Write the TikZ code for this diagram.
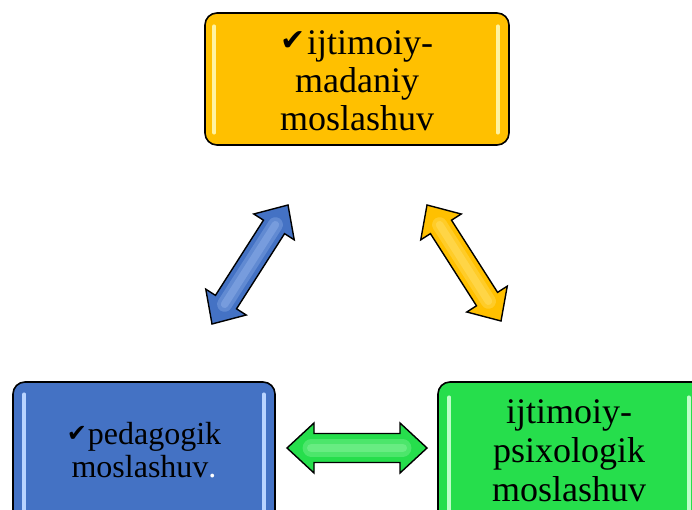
\documentclass[tikz,border=0pt]{standalone}
\usepackage{fontspec}
\setmainfont{Liberation Serif}
\newfontfamily\symfont{DejaVu Sans}
\usetikzlibrary{calc}
\definecolor{goldc}{RGB}{255,192,0}
\definecolor{bluec}{RGB}{68,114,196}
\definecolor{greenc}{RGB}{38,222,76}
\definecolor{goldhl}{RGB}{255,243,160}
\definecolor{bluehl}{RGB}{185,212,255}
\definecolor{greenhl}{RGB}{190,255,200}
\newcommand{\ck}[2]{\raisebox{#2pt}{\symfont\fontsize{#1}{#1}\selectfont ✔}\kern1pt}
\tikzset{
  box/.style={draw=black, line width=1.6pt, rounded corners=12pt, inner sep=0pt},
  txt/.style={align=center, inner sep=0pt},
  strip/.style={line width=3.5pt, line cap=round},
  barrow/.style={draw=black, line width=1.4pt, line join=miter},
  glow/.style={line cap=round},
}
% #1 from, #2 to, #3 fill, #4 glow colour, #5 head length, #6 head half width, #7 shaft half width
\newcommand{\blockarrow}[7]{%
  \draw[barrow, fill=#3] let \p1=(#1), \p2=(#2), \n1={atan2(\y2-\y1,\x2-\x1)} in
    (\p1) -- ($(\p1)+(\n1:#5)+({\n1+90}:#6)$) -- ($(\p1)+(\n1:#5)+({\n1+90}:#7)$)
    -- ($(\p2)+({\n1+180}:#5)+({\n1+90}:#7)$) -- ($(\p2)+({\n1+180}:#5)+({\n1+90}:#6)$)
    -- (\p2) -- ($(\p2)+({\n1+180}:#5)+({\n1-90}:#6)$) -- ($(\p2)+({\n1+180}:#5)+({\n1-90}:#7)$)
    -- ($(\p1)+(\n1:#5)+({\n1-90}:#7)$) -- ($(\p1)+(\n1:#5)+({\n1-90}:#6)$) -- cycle;
  \draw[glow, #4, opacity=0.25, line width=1.2*#7] let \p1=(#1), \p2=(#2), \n1={atan2(\y2-\y1,\x2-\x1)} in
    ($(\p1)+(\n1:0.9*#5)$) -- ($(\p2)+({\n1+180}:0.9*#5)$);
  \draw[glow, #4, opacity=0.25, line width=0.6*#7] let \p1=(#1), \p2=(#2), \n1={atan2(\y2-\y1,\x2-\x1)} in
    ($(\p1)+(\n1:0.9*#5)$) -- ($(\p2)+({\n1+180}:0.9*#5)$);
}
\begin{document}
\begin{tikzpicture}[x=1pt,y=1pt]
\useasboundingbox (0,0) rectangle (692,-510);
\clip (0,0) rectangle (692,-510);
\fill[white] (0,0) rectangle (692,-510);

% boxes
\node[box, fill=goldc, minimum width=304pt, minimum height=132pt] (top) at (357,-79) {};
\node[box, fill=bluec, minimum width=262pt, minimum height=148pt] (left) at (144,-456) {};
\node[box, fill=greenc, minimum width=268pt, minimum height=148pt] (right) at (572,-456) {};

% highlight strips
\draw[strip, goldhl] ([xshift=10pt,yshift=-14pt]top.north west) -- ([xshift=10pt,yshift=13pt]top.south west);
\draw[strip, goldhl] ([xshift=-12pt,yshift=-14pt]top.north east) -- ([xshift=-12pt,yshift=13pt]top.south east);
\draw[strip, bluehl] ([xshift=12pt,yshift=-13pt]left.north west) -- ([xshift=12pt,yshift=13pt]left.south west);
\draw[strip, bluehl] ([xshift=-12pt,yshift=-13pt]left.north east) -- ([xshift=-12pt,yshift=13pt]left.south east);
\draw[strip, greenhl] ([xshift=12pt,yshift=-16pt]right.north west) -- ([xshift=12pt,yshift=13pt]right.south west);
\draw[strip, greenhl] ([xshift=-18pt,yshift=-16pt]right.north east) -- ([xshift=-18pt,yshift=13pt]right.south east);

% texts
\node[txt, font=\fontsize{36}{38}\selectfont] (toptxt) at (357,-81) {\ck{30}{4}ijtimoiy-\\madaniy\\moslashuv};
\node[txt, font=\fontsize{32}{33}\selectfont] (lefttxt) at (144,-450) {\ck{24}{3}pedagogik\\moslashuv\textcolor{white}{.}};
\node[txt, font=\fontsize{36}{39}\selectfont] (righttxt) at (569,-451) {ijtimoiy-\\psixologik\\moslashuv};

% arrow ends
\coordinate (ba1) at (212,-324);
\coordinate (ba2) at (288,-205);
\coordinate (ya1) at (427,-205);
\coordinate (ya2) at (501,-321);
\coordinate (ga1) at (287,-448);
\coordinate (ga2) at (427,-448);

\blockarrow{ba1}{ba2}{bluec}{bluehl}{26}{24}{12.5}
\blockarrow{ya1}{ya2}{goldc}{goldhl}{26}{24}{12.5}
\blockarrow{ga1}{ga2}{greenc}{greenhl}{27}{25}{14.5}
\end{tikzpicture}
\end{document}
